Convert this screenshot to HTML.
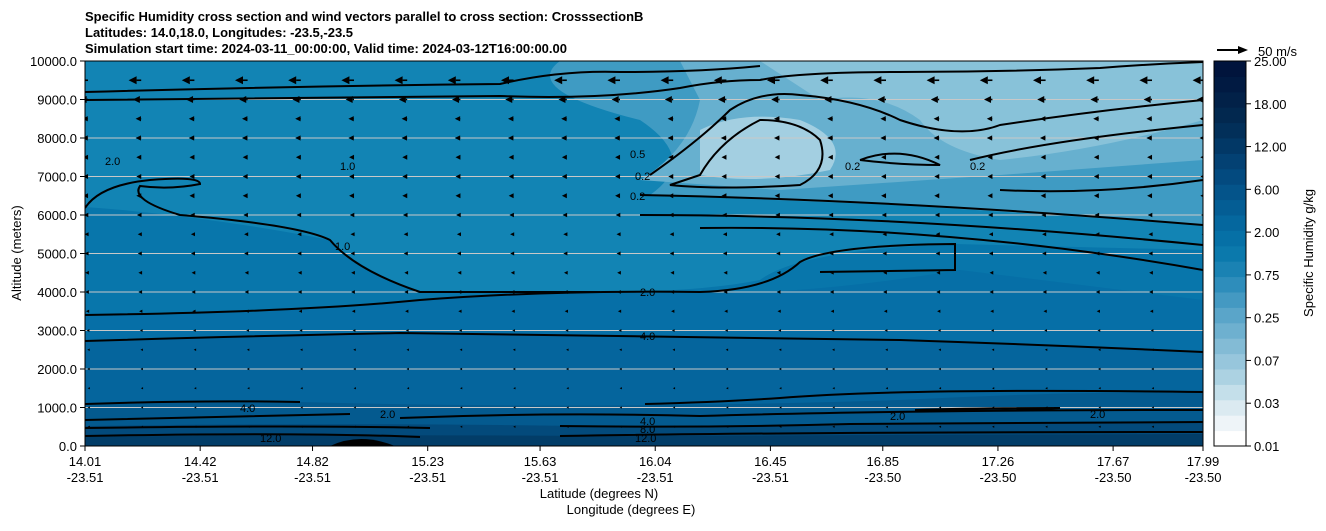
<!DOCTYPE html>
<html><head><meta charset="utf-8"><style>
body{margin:0;background:#fff;width:1326px;height:526px;overflow:hidden;font-family:"Liberation Sans",sans-serif}
svg text{font-family:"Liberation Sans",sans-serif}
</style></head><body>
<svg id="chart" width="1326" height="526" viewBox="0 0 1326 526" xmlns="http://www.w3.org/2000/svg">
<g font-size="13" font-weight="bold" fill="#000">
<text x="85" y="21">Specific Humidity cross section and wind vectors parallel to cross section: CrosssectionB</text>
<text x="85" y="37">Latitudes: 14.0,18.0, Longitudes: -23.5,-23.5</text>
<text x="85" y="53">Simulation start time: 2024-03-11_00:00:00, Valid time: 2024-03-12T16:00:00.00</text>
</g>
<defs><clipPath id="pc"><rect x="85" y="61" width="1118" height="385"/></clipPath></defs>
<g clip-path="url(#pc)">
<rect x="85" y="61" width="1118" height="385" fill="#1284b4"/>
<path d="M85 61 L560 61 Q520 90 640 120 Q700 160 650 195 L900 205 L1203 225 L1203 61 Z" fill="#3f9bc3"/>
<path d="M680 61 L700 100 Q690 150 640 180 L780 190 L1000 175 L1203 160 L1203 61 Z" fill="#67b0cf"/>
<path d="M760 61 L1000 61 L1203 61 L1203 120 Q1100 150 1000 160 Q940 150 920 120 Q880 90 820 100 Z" fill="#88c2d9"/>
<path d="M700 130 Q740 110 800 120 Q850 140 830 170 Q760 185 700 175 Z" fill="#a3cfe1"/>
<path d="M85 207 Q200 215 330 240 Q360 270 420 292 L600 292 Q700 292 760 280 Q800 250 955 244 L1203 250 L1203 446 L85 446 Z" fill="#0876ab"/>
<path d="M85 315 Q300 312 420 300 Q550 290 700 292 Q800 296 960 270 L1203 300 L1203 446 L85 446 Z" fill="#066fa7"/>
<path d="M85 341 Q250 336 400 333 Q650 336 900 340 Q1050 345 1203 352 L1203 446 L85 446 Z" fill="#05659d"/>
<path d="M85 404 Q200 400 300 402 Q600 410 900 400 Q1050 392 1203 392 L1203 446 L85 446 Z" fill="#045a8f"/>
<path d="M85 426 Q300 423 500 425 Q700 428 900 424 L1203 423 L1203 446 L85 446 Z" fill="#034a7b"/>
<path d="M85 437 Q300 434 600 436 L1203 434 L1203 446 L85 446 Z" fill="#023d68"/>
<path d="M330 446 Q360 432 395 446 Z" fill="#000"/>
</g>
<g stroke="#c8c8c8" stroke-width="1" id="grid"></g>
<g clip-path="url(#pc)" fill="none" stroke="#000" stroke-width="2">
<path d="M85 92 Q300 86 500 84 Q560 70 620 72 Q700 72 760 66"/>
<path d="M85 100 Q300 98 500 96 Q600 100 680 88 Q720 80 760 80 Q800 72 900 72 Q1000 72 1100 68 Q1150 64 1203 62"/>
<path d="M85 208 Q100 185 150 180 Q200 176 200 184 Q170 190 140 186 Q130 200 180 215 Q300 225 330 240 Q355 270 420 292 L600 292"/>
<path d="M85 315 Q300 312 420 300 Q550 290 700 292 Q770 290 800 262 Q830 245 955 244 L955 270 L820 272"/>
<path d="M85 341 Q250 336 400 333 Q650 336 900 340 Q1050 345 1203 352"/>
<path d="M85 404 Q200 400 300 402 M645 404 Q720 402 780 398 Q900 388 1203 392"/>
<path d="M85 420 Q250 416 350 414 M400 418 Q550 412 700 416 Q900 410 1203 410"/>
<path d="M85 428 Q300 425 430 428 M560 426 Q700 428 850 424 L1203 422"/>
<path d="M85 436 Q300 432 420 437 M560 436 Q800 432 1203 432"/>
<path d="M640 195 Q900 200 1203 225"/>
<path d="M650 175 Q700 140 730 110 Q760 90 800 95 Q860 100 900 120 Q960 140 1000 125 Q1100 110 1203 100"/>
<path d="M670 185 Q720 190 800 185 Q830 170 820 140 Q800 120 760 120 Q720 140 700 175 Z"/>
<path d="M860 160 Q900 145 940 165 Q900 165 860 160"/>
<path d="M970 160 Q1050 140 1203 125"/>
<path d="M1203 180 Q1100 195 1000 190"/>
<path d="M640 215 Q900 215 1203 245"/>
<path d="M700 228 Q950 225 1203 270"/>
<path d="M915 410 Q980 408 1060 408 Q1000 412 915 410"/>
</g>
<g font-size="11" fill="#000">
<text x="630" y="200">0.2</text><text x="635" y="180">0.2</text><text x="630" y="158">0.5</text>
<text x="640" y="296">2.0</text><text x="640" y="340">4.0</text><text x="380" y="418">2.0</text>
<text x="640" y="425">4.0</text><text x="640" y="433">8.0</text><text x="635" y="442">12.0</text>
<text x="845" y="170">0.2</text><text x="970" y="170">0.2</text><text x="105" y="165">2.0</text>
<text x="340" y="170">1.0</text><text x="335" y="250">1.0</text><text x="890" y="420">2.0</text>
<text x="1090" y="418">2.0</text><text x="240" y="412">4.0</text><text x="260" y="442">12.0</text>
</g>
<g id="arrows" clip-path="url(#pc)"></g>
<rect x="85" y="61" width="1118" height="385" fill="none" stroke="#000" stroke-width="1"/>
<g id="yaxis" font-size="13"></g>
<g id="xaxis" font-size="13"></g>
<text transform="translate(21 253) rotate(-90)" text-anchor="middle" font-size="13">Altitude (meters)</text>
<text x="599" y="498" text-anchor="middle" font-size="13">Latitude (degrees N)</text>
<text x="631" y="514" text-anchor="middle" font-size="13">Longitude (degrees E)</text>
<g>
<line x1="1217" y1="50" x2="1240" y2="50" stroke="#000" stroke-width="2"/>
<polygon points="1248,50 1238,46 1238,54" fill="#000"/>
<text x="1258" y="56" font-size="13">50 m/s</text>
</g>
<g id="cbar"></g>
<text transform="translate(1313 253) rotate(-90)" text-anchor="middle" font-size="13">Specific Humidity g/kg</text>
</svg>
<script>
const NS="http://www.w3.org/2000/svg";
const yTicks=[0,1000,2000,3000,4000,5000,6000,7000,8000,9000,10000];
const xLat=["14.01","14.42","14.82","15.23","15.63","16.04","16.45","16.85","17.26","17.67","17.99"];
const xLon=["-23.51","-23.51","-23.51","-23.51","-23.51","-23.51","-23.51","-23.50","-23.50","-23.50","-23.50"];
const xTickPos=[14.01,14.42,14.82,15.23,15.63,16.04,16.45,16.85,17.26,17.67,17.99];
const cbLabels=["0.01","0.03","0.07","0.25","0.75","2.00","6.00","12.00","18.00","25.00"];
const cbColors=["#ffffff","#eef4f8","#dbeaf1","#c4dfea","#acd2e2","#97c6dc","#83bbd5","#6eb0cf","#5aa5c9","#4499c2","#2e8dbb","#1a82b3","#0b79ac","#0670a6","#05679e","#045d94","#04548a","#034a7f","#034173","#023866","#022f59","#02284f","#022148","#011a42","#01143c","#010e55"];
const windAlt=[500,1000,1500,2000,2500,3000,3500,4000,4500,5000,5500,6000,6500,7000,7500,8000,8500,9000,9500];
const windU=[-0.5,-0.5,-0.5,-1,-1,-2,-3,-4,-4,-5,-5,-6,-7,-7,-7,-8,-8,-12,-18];
const nCols=22;
const yScale=a=>446-a*0.0385;
const xScale=lat=>85+(lat-14.01)/(17.99-14.01)*1118;
function el(t,p,a){const e=document.createElementNS(NS,t);for(const k in a)e.setAttribute(k,a[k]);p.appendChild(e);return e;}
const grid=document.getElementById('grid'),ya=document.getElementById('yaxis'),xa=document.getElementById('xaxis');
yTicks.forEach(v=>{
 if(v>0&&v<10000){const g=el('line',grid,{x1:85,x2:1203,y1:yScale(v),y2:yScale(v)});
 
 }
 const t=el('line',ya,{x1:80,x2:85,y1:yScale(v),y2:yScale(v),stroke:'#000'});
 
 
 const l=el('text',ya,{x:77,y:yScale(v)+5,'text-anchor':'end'});l.textContent=v.toFixed(1);
 
 
});
xTickPos.forEach((p,i)=>{
 const t=el('line',xa,{x1:xScale(p),x2:xScale(p),y1:446,y2:451,stroke:'#000'});
 
 
 const a=el('text',xa,{x:xScale(p),y:466,'text-anchor':'middle'});a.textContent=xLat[i];
 
 
 const b=el('text',xa,{x:xScale(p),y:482,'text-anchor':'middle'});b.textContent=xLon[i];
 
 
});
const ar=document.getElementById('arrows');
windAlt.forEach((alt,r)=>{
 for(let c=0;c<nCols;c++){
  const x0=88+c*53.2,yy=yScale(alt),L=Math.abs(windU[r])*0.7,dir=Math.sign(windU[r])||-1;
  const hl=Math.min(8,2+L*0.6),hw=Math.min(4,1+L*0.3);
  const g=el('g',ar,{});
  
  
  const tip=x0+dir*L;
  if(L>hl)el('line',g,{x1:x0,y1:yy,x2:tip-dir*hl,y2:yy,stroke:'#000','stroke-width':1.6});
  el('polygon',g,{points:`${tip},${yy} ${tip-dir*hl},${yy-hw} ${tip-dir*hl},${yy+hw}`,fill:'#000'});
 }
});
const cb=document.getElementById('cbar');
const nBands=cbColors.length-1,cbTop=61,cbBot=446,bandH=(cbBot-cbTop)/nBands;
for(let i=0;i<nBands;i++){const r=el('rect',cb,{x:1214,y:cbBot-(i+1)*bandH,width:32,height:bandH+0.5,fill:cbColors[i]});
 
 }
el('rect',cb,{x:1214,y:61,width:32,height:385,fill:'none',stroke:'#000'});
cbLabels.forEach((s,i)=>{const yy=cbBot-i*(cbBot-cbTop)/(cbLabels.length-1);
 el('line',cb,{x1:1246,x2:1251,y1:yy,y2:yy,stroke:'#000'});
 const t=el('text',cb,{x:1254,y:yy+5,'font-size':13});t.textContent=s;
 
 });
</script>
</body></html>
